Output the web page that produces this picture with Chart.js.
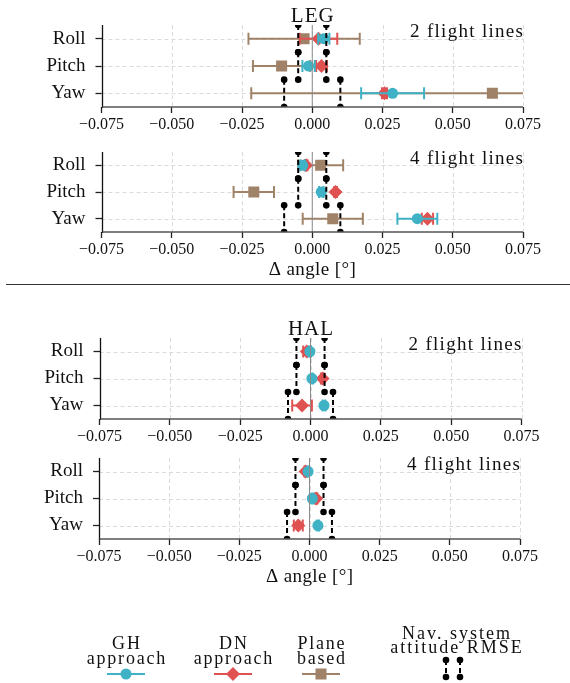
<!DOCTYPE html>
<html>
<head>
<meta charset="utf-8">
<script src="https://cdn.jsdelivr.net/npm/chart.js@4.4.1/dist/chart.umd.min.js"></script>
<style>
  html, body { margin: 0; padding: 0; background: #fff; }
  #wrap { position: relative; width: 570px; height: 683px; overflow: hidden; }
  #wrap canvas { position: absolute; left: 0; }
  #sep { position: absolute; left: 6px; right: 0; top: 284px; border-top: 1.5px solid #333; }
</style>
</head>
<body>
<div id="wrap">
  <canvas id="leg2" width="570" height="140" style="top:0"></canvas>
  <canvas id="leg4" width="570" height="160" style="top:140px"></canvas>
  <div id="sep"></div>
  <canvas id="hal2" width="570" height="150" style="top:300px"></canvas>
  <canvas id="hal4" width="570" height="233" style="top:450px"></canvas>
</div>
<script>
const angles = ['Roll', 'Pitch', 'Yaw'];
const xTicks = [-0.075, -0.05, -0.025, 0, 0.025, 0.05, 0.075];
const methodNames = ['GH\napproach', 'DN\napproach', 'Plane\nbased'];
const rmseName = 'Nav. system\nattitude RMSE';

// LEG, 2 flight lines
const legGh2 = [0.0041, -0.0013, 0.0286];
const legGh2Err = [0.0020, 0.0022, 0.0112];
const legDn2 = [0.0022, 0.0033, 0.0257];
const legDn2Err = [0.0067, 0.0019, 0.0009];
const legPlane2 = [-0.0029, -0.0109, 0.0641];
const legPlane2Err = [0.0198, 0.0102, 0.0858];

// LEG, 4 flight lines
const legGh4 = [-0.0034, 0.0032, 0.0374];
const legGh4Err = [0.0008, 0.0008, 0.0071];
const legDn4 = [-0.0022, 0.0083, 0.0410];
const legDn4Err = [0.0005, 0.0005, 0.0020];
const legPlane4 = [0.0030, -0.0208, 0.0073];
const legPlane4Err = [0.0080, 0.0072, 0.0107];

// HAL, 2 and 4 flight lines (no plane based solution)
const halGh2 = [-0.0002, 0.0005, 0.0048];
const halGh2Err = [0.0004, 0.0004, 0.0005];
const halDn2 = [-0.0013, 0.0043, -0.0030];
const halDn2Err = [0.0013, 0.0006, 0.0035];
const halGh4 = [-0.0005, 0.0010, 0.0030];
const halGh4Err = [0.0003, 0.0003, 0.0004];
const halDn4 = [-0.0014, 0.0024, -0.0040];
const halDn4Err = [0.0004, 0.0004, 0.0016];

// navigation system attitude RMSE per angle
const legRmse = [0.005, 0.005, 0.010];
const halRmse = [0.005, 0.005, 0.008];

const SERIF = '"Liberation Serif", "DejaVu Serif", serif';
Chart.defaults.font.family = SERIF;
Chart.defaults.color = '#111';

const looks = [
    { color: '#3fb2c6', pointStyle: 'circle', radius: 5.5 },
    { color: '#e05252', pointStyle: 'rectRot', radius: 7 },
    { color: '#a08269', pointStyle: 'rect', radius: 7.8 },
];

const fmtTick = v => (v < 0 ? '\u2212' : '') + Math.abs(v).toFixed(3);

function drawText(ctx, str, x, y, size, align, spacing) {
    ctx.save();
    ctx.font = size + 'px ' + SERIF;
    ctx.letterSpacing = (spacing || 0) + 'px';
    ctx.textAlign = align;
    ctx.textBaseline = 'alphabetic';
    ctx.fillStyle = '#111';
    ctx.fillText(str, x + (align === 'center' ? (spacing || 0) / 2 : align === 'right' ? (spacing || 0) : 0), y);
    ctx.restore();
}

function rmseLine(ctx, x, y0, y1) {
    ctx.save();
    ctx.strokeStyle = '#000';
    ctx.lineWidth = 2;
    ctx.setLineDash([5, 3]);
    ctx.beginPath();
    ctx.moveTo(x, y0); ctx.lineTo(x, y1);
    ctx.stroke();
    ctx.setLineDash([]);
    ctx.fillStyle = '#000';
    for (const y of [y0, y1]) {
        ctx.beginPath(); ctx.arc(x, y, 3.3, 0, Math.PI * 2); ctx.fill();
    }
    ctx.restore();
}

const decor = {
    id: 'decor',
    beforeDatasetsDraw(chart, args, o) {
        const { ctx, chartArea: a, scales: { x, y } } = chart;
        ctx.save();
        ctx.strokeStyle = '#d6d6d6';
        ctx.lineWidth = 0.9;
        ctx.setLineDash([4, 3]);
        for (const t of xTicks) {
            const px = Math.round(x.getPixelForValue(t)) + 0.5;
            ctx.beginPath(); ctx.moveTo(px, a.top); ctx.lineTo(px, a.bottom); ctx.stroke();
        }
        angles.forEach((_, r) => {
            const py = Math.round(y.getPixelForValue(r)) + 0.5;
            ctx.beginPath(); ctx.moveTo(a.left, py); ctx.lineTo(a.right, py); ctx.stroke();
        });
        ctx.restore();
    },
    beforeDatasetDraw(chart, args) {
        const ds = chart.data.datasets[args.index];
        if (!ds.errors) return;
        const { ctx, chartArea: a, scales: { x, y } } = chart;
        ctx.save();
        ctx.beginPath(); ctx.rect(a.left, a.top, a.right - a.left, a.bottom - a.top); ctx.clip();
        ctx.strokeStyle = ds.borderColor;
        ctx.lineWidth = 2;
        ds.data.forEach((p, i) => {
            const x0 = x.getPixelForValue(p.x - ds.errors[i]);
            const x1 = x.getPixelForValue(p.x + ds.errors[i]);
            const py = y.getPixelForValue(p.y);
            ctx.beginPath();
            ctx.moveTo(x0, py); ctx.lineTo(x1, py);
            ctx.moveTo(x0, py - 6); ctx.lineTo(x0, py + 6);
            ctx.moveTo(x1, py - 6); ctx.lineTo(x1, py + 6);
            ctx.stroke();
        });
        ctx.restore();
    },
    afterDatasetsDraw(chart, args, o) {
        const { ctx, chartArea: a, scales: { x } } = chart;
        // zero line
        const zx = x.getPixelForValue(0);
        ctx.save();
        ctx.strokeStyle = '#8a8a8a';
        ctx.lineWidth = 1;
        ctx.beginPath(); ctx.moveTo(zx, a.top); ctx.lineTo(zx, a.bottom); ctx.stroke();
        // left and bottom spines
        const l = Math.round(a.left) + 0.5;
        ctx.strokeStyle = '#111';
        ctx.lineWidth = 1.3;
        ctx.beginPath(); ctx.moveTo(l, a.top); ctx.lineTo(l, a.bottom + 1); ctx.stroke();
        ctx.strokeStyle = '#555';
        ctx.lineWidth = 1.6;
        ctx.beginPath(); ctx.moveTo(l, a.bottom); ctx.lineTo(a.right, a.bottom); ctx.stroke();
        ctx.restore();
        const mid = (a.left + a.right) / 2;
        if (o.title) drawText(ctx, o.title, mid, a.top - 3, 21, 'center', 1);
        if (o.note) drawText(ctx, o.note, a.right, a.top + 12, 19, 'right', 1.3);
        if (o.xTitle) drawText(ctx, 'Δ angle [°]', mid, a.bottom + 43, 19, 'center', 0.4);
        if (o.legend) drawLegend(chart);
    },
};

function drawLegend(chart) {
    const ctx = chart.ctx;
    const cols = [126, 233, 321];
    methodNames.forEach((name, i) => {
        const [l1, l2] = name.split('\n');
        const cx = cols[i];
        drawText(ctx, l1, cx, 199, 18, 'center', 1.8);
        drawText(ctx, l2, cx, 214, 18, 'center', 1.8);
        const lk = looks[i];
        ctx.save();
        ctx.strokeStyle = lk.color;
        ctx.lineWidth = 2;
        ctx.beginPath(); ctx.moveTo(cx - 19, 224); ctx.lineTo(cx + 19, 224); ctx.stroke();
        ctx.fillStyle = lk.color;
        Chart.helpers.drawPoint(ctx, { pointStyle: lk.pointStyle, radius: lk.radius, borderWidth: 0, rotation: 0 }, cx, 224);
        ctx.restore();
    });
    const [n1, n2] = rmseName.split('\n');
    drawText(ctx, n1, 456, 189, 18, 'center', 2);
    drawText(ctx, n2, 456, 203, 18, 'center', 2);
    rmseLine(ctx, 446, 210, 227);
    rmseLine(ctx, 460, 210, 227);
}

function rmsePath(rmse) {
    const pts = [];
    rmse.forEach((v, r) => {
        pts.push({ x: -v, y: r - 0.5 }, { x: -v, y: r + 0.5 }, { x: null, y: null });
        pts.push({ x: v, y: r - 0.5 }, { x: v, y: r + 0.5 }, { x: null, y: null });
    });
    return pts;
}

function makePanel(id, area, series, rmse, o) {
    const canvas = document.getElementById(id);
    const H = canvas.height;
    const datasets = [{
        label: rmseName.replace('\n', ' '),
        data: rmsePath(rmse),
        showLine: true,
        borderColor: '#000',
        borderWidth: 2,
        borderDash: [5, 3],
        pointRadius: 3.3,
        pointBackgroundColor: '#000',
        pointBorderWidth: 0,
        order: 0,
    }];
    series.forEach((s, i) => {
        const lk = looks[i];
        datasets.push({
            label: methodNames[i].replace('\n', ' '),
            data: s[0].map((v, r) => ({ x: v, y: r })),
            errors: s[1],
            pointStyle: lk.pointStyle,
            pointRadius: lk.radius,
            backgroundColor: lk.color,
            borderColor: lk.color,
            pointBorderWidth: 0,
            order: i + 1,
        });
    });
    const tickGrid = { drawOnChartArea: false, tickLength: 6, tickColor: '#222', tickWidth: 1.3 };
    new Chart(canvas, {
        type: 'scatter',
        data: { datasets },
        plugins: [decor],
        options: {
            responsive: false,
            animation: false,
            events: [],
            layout: { padding: { left: 0, right: 570 - area.right, top: area.top, bottom: 0 } },
            scales: {
                x: {
                    type: 'linear', min: xTicks[0], max: xTicks[xTicks.length - 1],
                    afterBuildTicks: s => { s.ticks = xTicks.map(v => ({ value: v })); },
                    afterFit: s => {
                        s.height = H - area.bottom;
                        s.paddingLeft = 0; s.paddingRight = 0;
                    },
                    ticks: { font: { size: 16 }, color: '#111', padding: 2, maxRotation: 0, callback: fmtTick },
                    grid: tickGrid,
                    border: { display: false },
                },
                y: {
                    type: 'linear', min: -0.5, max: 2.5, reverse: true,
                    afterBuildTicks: s => { s.ticks = angles.map((_, i) => ({ value: i })); },
                    afterFit: s => {
                        s.width = area.left;
                        s.paddingTop = 0; s.paddingBottom = 0;
                    },
                    ticks: { font: { size: 19 }, color: '#111', padding: 10, callback: v => angles[v] },
                    grid: tickGrid,
                    border: { display: false },
                },
            },
            plugins: {
                legend: { display: false },
                tooltip: { enabled: false },
                decor: o,
            },
        },
    });
}

makePanel('leg2', { left: 101.5, right: 523, top: 25, bottom: 107 },
    [[legGh2, legGh2Err], [legDn2, legDn2Err], [legPlane2, legPlane2Err]], legRmse,
    { title: 'LEG', note: '2 flight lines' });
makePanel('leg4', { left: 101.5, right: 523, top: 12, bottom: 92 },
    [[legGh4, legGh4Err], [legDn4, legDn4Err], [legPlane4, legPlane4Err]], legRmse,
    { note: '4 flight lines', xTitle: true });
makePanel('hal2', { left: 99.5, right: 521.5, top: 38, bottom: 119 },
    [[halGh2, halGh2Err], [halDn2, halDn2Err]], halRmse,
    { title: 'HAL', note: '2 flight lines' });
makePanel('hal4', { left: 99, right: 520, top: 8, bottom: 89 },
    [[halGh4, halGh4Err], [halDn4, halDn4Err]], halRmse,
    { note: '4 flight lines', xTitle: true, legend: true });
</script>
</body>
</html>
